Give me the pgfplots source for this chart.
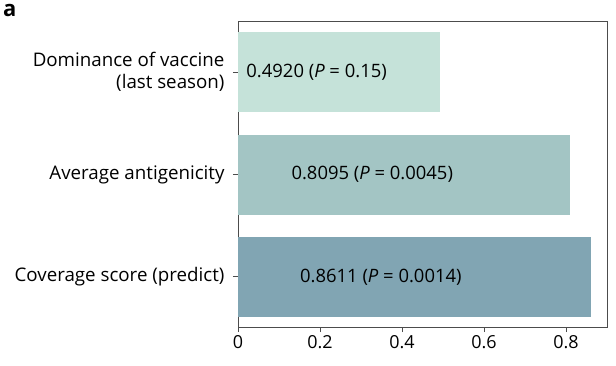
\documentclass[border=0pt]{standalone}
\usepackage{pgfplots}
\pgfplotsset{compat=1.18}
\usepackage{fontspec}
\setmainfont{Open Sans}
\definecolor{barA}{RGB}{197,226,217}
\definecolor{barB}{RGB}{163,197,196}
\definecolor{barC}{RGB}{129,165,179}
\begin{document}
\begin{tikzpicture}
\useasboundingbox (-238bp,-39bp) rectangle (378bp,327bp);
\begin{axis}[
  at={(0,0)}, anchor=south west,
  scale only axis, width=369bp, height=306bp,
  xmin=0, xmax=0.9, ymin=-0.49, ymax=2.5,
  xtick={0,0.2,0.4,0.6,0.8},
  xticklabels={0,0.2,0.4,0.6,0.8},
  ytick={0,1,2},
  yticklabels={Coverage score (predict),Average antigenicity,{Dominance of vaccine\\(last season)}},
  yticklabel style={align=right, font=\fontsize{18.8}{22}\selectfont, xshift=-5bp},
  xticklabel style={font=\fontsize{18}{20}\selectfont},
  tick align=outside, tick pos=left,
  major tick length=5bp,
  axis line style={black!70, line width=0.8pt},
  every tick/.style={black!70, line width=0.8pt},
  xbar, bar width=80bp, bar shift=0pt,
  clip=false,
]
\addplot[fill=barA, draw=none] coordinates {(0.4920,2)};
\addplot[fill=barB, draw=none] coordinates {(0.8095,1)};
\addplot[fill=barC, draw=none] coordinates {(0.8611,0)};
\node[anchor=west, font=\fontsize{18.5}{20}\selectfont] at (axis cs:0.012,2) {0.4920 (\textit{P} = 0.15)};
\node[anchor=west, font=\fontsize{18.5}{20}\selectfont] at (axis cs:0.122,1) {0.8095 (\textit{P} = 0.0045)};
\node[anchor=west, font=\fontsize{18.5}{20}\selectfont] at (axis cs:0.143,0) {0.8611 (\textit{P} = 0.0014)};
\end{axis}
\node[anchor=north west, font=\bfseries\fontsize{22}{24}\selectfont, inner sep=0pt] at (-235bp,323bp) {a};
\end{tikzpicture}
\end{document}
